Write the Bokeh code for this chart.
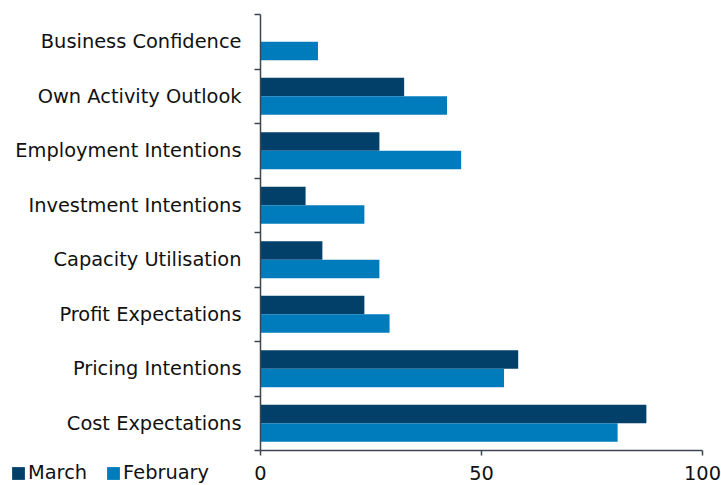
from bokeh.plotting import figure
from bokeh.models import Range1d, FixedTicker, Legend, LegendItem, ColumnDataSource
from bokeh.embed import file_html
from bokeh.resources import INLINE

categories = ["Business Confidence", "Own Activity Outlook", "Employment Intentions",
              "Investment Intentions", "Capacity Utilisation", "Profit Expectations",
              "Pricing Intentions", "Cost Expectations"]
march = [0, 32.5, 26.9, 10.2, 14.0, 23.5, 58.3, 87.3]
february = [13.0, 42.2, 45.4, 23.5, 26.9, 29.2, 55.1, 80.8]
x_ticks = [0, 50, 100]

MARCH_COLOR = "#02406a"
FEB_COLOR = "#007bbb"
AXIS_COLOR = "#3c4650"
FONT = "DejaVu Sans"
FSIZE = "19.4px"

W, H = 721, 485
# pixel layout of the value area inside the canvas
PX_LEFT, PX_RIGHT, PX_TOP, PX_BOTTOM = 260, 702, 14, 450

n = len(categories)
pos = list(range(n))
src = ColumnDataSource(dict(
    y_m=[i + 0.33 for i in pos],
    y_f=[i + 0.67 for i in pos],
    march=march,
    february=february,
))

xmax = x_ticks[-1]
ppu_x = (PX_RIGHT - PX_LEFT) / xmax
ppu_y = (PX_BOTTOM - PX_TOP) / n
x_range = Range1d(-PX_LEFT / ppu_x, xmax + (W - PX_RIGHT) / ppu_x)
y_range = Range1d(start=n + (H - PX_BOTTOM) / ppu_y, end=-PX_TOP / ppu_y)

p = figure(width=W, height=H, output_backend="svg", toolbar_location=None,
           x_range=x_range, y_range=y_range,
           min_border=0)
p.outline_line_color = None
p.xgrid.visible = False
p.ygrid.visible = False
p.background_fill_color = "white"
p.border_fill_color = "white"

r_m = p.hbar(y="y_m", right="march", left=0, height=0.34, source=src,
             fill_color=MARCH_COLOR, line_color=None)
r_f = p.hbar(y="y_f", right="february", left=0, height=0.34, source=src,
             fill_color=FEB_COLOR, line_color=None)

# x axis
xa = p.xaxis[0]
xa.fixed_location = n
xa.bounds = (0, xmax)
xa.ticker = FixedTicker(ticks=x_ticks)
xa.axis_line_color = AXIS_COLOR
xa.axis_line_width = 1.5
xa.major_tick_line_color = AXIS_COLOR
xa.major_tick_line_width = 1.5
xa.major_tick_out = 5
xa.major_tick_in = 0
xa.minor_tick_line_color = None
xa.major_label_standoff = 10
xa.major_label_text_font = FONT
xa.major_label_text_font_size = FSIZE
xa.major_label_text_color = "#111111"

# y axis
ya = p.yaxis[0]
ya.fixed_location = 0
ya.bounds = (0, n)
ya.ticker = FixedTicker(ticks=[i + 0.5 for i in pos], minor_ticks=list(range(n + 1)))
ya.major_label_overrides = {i + 0.5: c for i, c in zip(pos, categories)}
ya.axis_line_color = AXIS_COLOR
ya.axis_line_width = 1.5
ya.major_tick_line_color = None
ya.major_tick_out = 0
ya.major_tick_in = 0
ya.minor_tick_line_color = AXIS_COLOR
ya.minor_tick_line_width = 1.5
ya.minor_tick_out = 6
ya.minor_tick_in = 0
ya.major_label_standoff = 13
ya.major_label_text_font = FONT
ya.major_label_text_font_size = FSIZE
ya.major_label_text_color = "#111111"

legend = Legend(items=[LegendItem(label="March", renderers=[r_m]),
                       LegendItem(label="February", renderers=[r_f])],
                orientation="horizontal", location=(10, 1),
                padding=0, margin=0, spacing=18, label_standoff=2,
                glyph_width=16, glyph_height=16,
                border_line_color=None, background_fill_alpha=0,
                label_text_font=FONT, label_text_font_size=FSIZE,
                label_text_color="#111111")
p.add_layout(legend, "center")

open("out.html", "w").write(file_html(p, INLINE))
